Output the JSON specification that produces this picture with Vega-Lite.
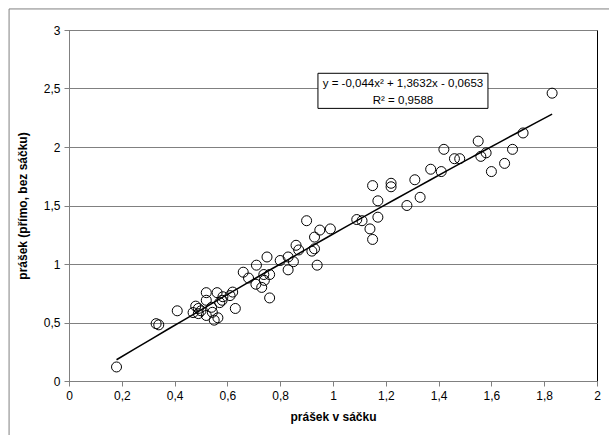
{
  "$schema": "https://vega.github.io/schema/vega-lite/v6.json",
  "autosize": {"type": "none"},
  "padding": {"left": 69, "top": 30, "right": 12, "bottom": 54},
  "width": 528,
  "height": 351,
  "background": "white",
  "config": {
    "font": "Liberation Sans",
    "view": {"stroke": "black", "strokeWidth": 1}
  },
  "datasets": {
    "pts": [
      {"x": 0.18, "y": 0.12}, {"x": 0.33, "y": 0.49}, {"x": 0.34, "y": 0.48}, {"x": 0.41, "y": 0.60},
      {"x": 0.48, "y": 0.64}, {"x": 0.47, "y": 0.585}, {"x": 0.49, "y": 0.576}, {"x": 0.49, "y": 0.62},
      {"x": 0.52, "y": 0.755}, {"x": 0.52, "y": 0.69}, {"x": 0.52, "y": 0.56}, {"x": 0.543, "y": 0.587},
      {"x": 0.55, "y": 0.52}, {"x": 0.564, "y": 0.54}, {"x": 0.561, "y": 0.755}, {"x": 0.571, "y": 0.67},
      {"x": 0.583, "y": 0.72}, {"x": 0.61, "y": 0.73}, {"x": 0.62, "y": 0.76}, {"x": 0.63, "y": 0.62},
      {"x": 0.5, "y": 0.6}, {"x": 0.54, "y": 0.63}, {"x": 0.58, "y": 0.69},
      {"x": 0.66, "y": 0.93}, {"x": 0.68, "y": 0.88}, {"x": 0.71, "y": 0.99}, {"x": 0.708, "y": 0.827},
      {"x": 0.73, "y": 0.80}, {"x": 0.74, "y": 0.86}, {"x": 0.738, "y": 0.91}, {"x": 0.75, "y": 1.06},
      {"x": 0.76, "y": 0.91}, {"x": 0.76, "y": 0.71}, {"x": 0.80, "y": 1.03}, {"x": 0.83, "y": 1.06},
      {"x": 0.83, "y": 0.95}, {"x": 0.85, "y": 1.02}, {"x": 0.86, "y": 1.16}, {"x": 0.87, "y": 1.12},
      {"x": 0.90, "y": 1.37}, {"x": 0.92, "y": 1.11}, {"x": 0.93, "y": 1.23}, {"x": 0.93, "y": 1.13},
      {"x": 0.94, "y": 0.99}, {"x": 0.95, "y": 1.29}, {"x": 0.99, "y": 1.30}, {"x": 1.09, "y": 1.38},
      {"x": 1.11, "y": 1.37}, {"x": 1.14, "y": 1.30}, {"x": 1.15, "y": 1.21}, {"x": 1.15, "y": 1.67},
      {"x": 1.17, "y": 1.54}, {"x": 1.17, "y": 1.40}, {"x": 1.22, "y": 1.69}, {"x": 1.22, "y": 1.66},
      {"x": 1.28, "y": 1.50}, {"x": 1.31, "y": 1.72}, {"x": 1.33, "y": 1.57}, {"x": 1.37, "y": 1.81},
      {"x": 1.41, "y": 1.79}, {"x": 1.42, "y": 1.98}, {"x": 1.46, "y": 1.90}, {"x": 1.48, "y": 1.90},
      {"x": 1.55, "y": 2.05}, {"x": 1.56, "y": 1.92}, {"x": 1.58, "y": 1.95}, {"x": 1.60, "y": 1.79},
      {"x": 1.65, "y": 1.86}, {"x": 1.68, "y": 1.98}, {"x": 1.72, "y": 2.12}, {"x": 1.83, "y": 2.46}
    ],
    "frame": [{"x": -0.227, "x2": 2.1, "y": 3.18, "y2": -0.6}],
    "box": [{"x": 0.943, "x2": 1.587, "y": 2.63, "y2": 2.33}],
    "labels": [
      {"x": 1.265, "y": 2.537, "t": "y = -0,044x² + 1,3632x - 0,0653"},
      {"x": 1.265, "y": 2.397, "t": "R² = 0,9588"}
    ]
  },
  "layer": [
    {
      "data": {"name": "frame"},
      "mark": {"type": "rect", "fill": null, "stroke": "#808080", "strokeWidth": 1, "clip": false},
      "encoding": {
        "x": {"field": "x", "type": "quantitative", "scale": {"domain": [0, 2], "nice": false, "zero": false}},
        "x2": {"field": "x2"},
        "y": {"field": "y", "type": "quantitative", "scale": {"domain": [0, 3], "nice": false, "zero": false}},
        "y2": {"field": "y2"}
      }
    },
    {
      "data": {"name": "pts"},
      "mark": {"type": "point", "shape": "circle", "filled": false, "color": "black", "strokeWidth": 1, "size": 100, "opacity": 1},
      "encoding": {
        "x": {
          "field": "x", "type": "quantitative",
          "scale": {"domain": [0, 2], "nice": false, "zero": false},
          "axis": {
            "title": "prášek v sáčku", "titleFontSize": 12, "titleFontWeight": "bold", "titleColor": "black", "titlePadding": 10,
            "values": [0, 0.2, 0.4, 0.6, 0.8, 1, 1.2, 1.4, 1.6, 1.8, 2],
            "labelExpr": "replace(format(datum.value, '~g'), '.', ',')",
            "labelFontSize": 12, "labelColor": "black", "labelPadding": 4,
            "grid": false, "domainColor": "#808080", "tickColor": "#808080", "tickSize": 5, "labelFlush": false
          }
        },
        "y": {
          "field": "y", "type": "quantitative",
          "scale": {"domain": [0, 3], "nice": false, "zero": false},
          "axis": {
            "title": "prášek (přímo, bez sáčku)", "titleFontSize": 12, "titleFontWeight": "bold", "titleColor": "black", "titlePadding": 14,
            "values": [0, 0.5, 1, 1.5, 2, 2.5, 3],
            "labelExpr": "replace(format(datum.value, '~g'), '.', ',')",
            "labelFontSize": 12, "labelColor": "black", "labelPadding": 4,
            "grid": true, "gridColor": "#808080", "gridWidth": 1, "domainColor": "#808080", "tickColor": "#808080", "tickSize": 5, "labelFlush": false
          }
        }
      }
    },
    {
      "data": {"name": "pts"},
      "transform": [{"regression": "y", "on": "x", "method": "poly", "order": 2, "extent": [0.18, 1.83]}],
      "mark": {"type": "line", "color": "black", "strokeWidth": 1.5},
      "encoding": {
        "x": {"field": "x", "type": "quantitative"},
        "y": {"field": "y", "type": "quantitative"}
      }
    },
    {
      "data": {"name": "box"},
      "mark": {"type": "rect", "fill": "white", "stroke": "black", "strokeWidth": 1},
      "encoding": {
        "x": {"field": "x", "type": "quantitative"},
        "x2": {"field": "x2"},
        "y": {"field": "y", "type": "quantitative"},
        "y2": {"field": "y2"}
      }
    },
    {
      "data": {"name": "labels"},
      "mark": {"type": "text", "fontSize": 11.5, "color": "black", "align": "center", "baseline": "middle"},
      "encoding": {
        "x": {"field": "x", "type": "quantitative"},
        "y": {"field": "y", "type": "quantitative"},
        "text": {"field": "t"}
      }
    }
  ]
}
